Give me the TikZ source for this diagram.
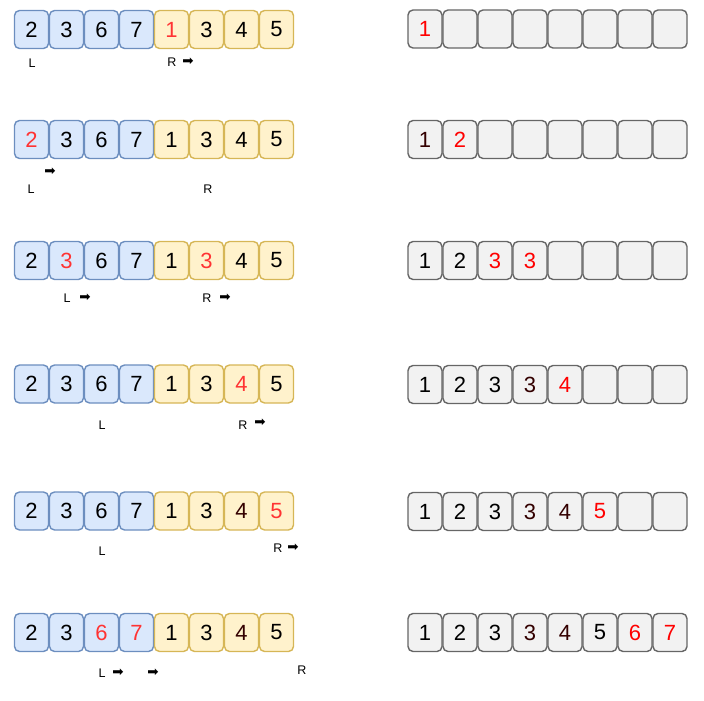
\documentclass[tikz,border=0pt]{standalone}
\usepackage{fontspec}
\setmainfont{Liberation Sans}
\newfontfamily\arrowfont{DejaVu Sans}
\definecolor{bfill}{HTML}{DAE8FC}
\definecolor{bdraw}{HTML}{6C8EBF}
\definecolor{yfill}{HTML}{FFF2CC}
\definecolor{ydraw}{HTML}{D6B656}
\definecolor{gfill}{HTML}{F2F2F2}
\definecolor{gdraw}{HTML}{666666}
\definecolor{lred}{HTML}{FF3333}
\definecolor{rred}{HTML}{FF0000}
\definecolor{dark}{HTML}{330000}
\newcommand\leftrow[3]{%
  \foreach \v/\c [count=\i from 0] in {#3} {%
    \ifnum\i<4 \def\fc{bfill}\def\dc{bdraw}\else\def\fc{yfill}\def\dc{ydraw}\fi
    \node[cell, fill=\fc, draw=\dc, text=\c] (l#1-\i) at (31.5+35*\i, #2) {\v};
  }}
\newcommand\rightrow[3]{%
  \foreach \v/\c [count=\i from 0] in {#3} {%
    \node[cell, fill=gfill, draw=gdraw, text=\c] (r#1-\i) at (425+35*\i, #2) {\v};
  }}
\begin{document}
\begin{tikzpicture}[x=1pt,y=-1pt]
\tikzset{
  cell/.style={rounded corners=5pt, minimum width=34pt, minimum height=38pt, inner sep=0pt, line width=1.4pt, font=\fontsize{22}{22}\selectfont},
  ptr/.style={inner sep=0pt, font=\fontsize{12.5}{12.5}\selectfont},
  arr/.style={inner sep=0pt, font=\arrowfont\fontsize{13.5}{13.5}\selectfont}
}
\useasboundingbox (0,0) rectangle (704,701);
% row 1
\leftrow{1}{29.5}{2/black,3/black,6/black,7/black,1/lred,3/black,4/black,5/black}
\rightrow{1}{29}{1/rred, /black, /black, /black, /black, /black, /black, /black}
\node[ptr] (L1) at (32,63) {L};
\node[ptr] (R1) at (172,62) {R};
\node[arr] (A1) at (188,62) {➡};
% row 2
\leftrow{2}{139.5}{2/lred,3/black,6/black,7/black,1/black,3/black,4/black,5/black}
\rightrow{2}{139.5}{1/dark,2/rred, /black, /black, /black, /black, /black, /black}
\node[ptr] (L2) at (31,189) {L};
\node[arr] (A2) at (50,172) {➡};
\node[ptr] (R2) at (208,189) {R};
% row 3
\leftrow{3}{260.5}{2/black,3/lred,6/black,7/black,1/black,3/lred,4/black,5/black}
\rightrow{3}{260.5}{1/black,2/black,3/rred,3/rred, /black, /black, /black, /black}
\node[ptr] (L3) at (67,298) {L};
\node[arr] (A3a) at (85,298) {➡};
\node[ptr] (R3) at (207,298) {R};
\node[arr] (A3b) at (225,298) {➡};
% row 4
\leftrow{4}{384}{2/black,3/black,6/black,7/black,1/black,3/black,4/lred,5/black}
\rightrow{4}{384.5}{1/black,2/black,3/black,3/dark,4/rred, /black, /black, /black}
\node[ptr] (L4) at (102,425) {L};
\node[ptr] (R4) at (243,425) {R};
\node[arr] (A4) at (260,423) {➡};
% row 5
\leftrow{5}{511}{2/black,3/black,6/black,7/black,1/black,3/black,4/dark,5/lred}
\rightrow{5}{511.5}{1/black,2/black,3/black,3/dark,4/dark,5/rred, /black, /black}
\node[ptr] (L5) at (102,551) {L};
\node[ptr] (R5) at (278,548) {R};
\node[arr] (A5) at (293,548) {➡};
% row 6
\leftrow{6}{632.5}{2/black,3/black,6/lred,7/lred,1/black,3/black,4/dark,5/black}
\rightrow{6}{632.5}{1/black,2/black,3/black,3/dark,4/dark,5/black,6/rred,7/rred}
\node[ptr] (L6) at (102,673) {L};
\node[arr] (A6a) at (118,673) {➡};
\node[arr] (A6b) at (153,673) {➡};
\node[ptr] (R6) at (302,670) {R};
\end{tikzpicture}
\end{document}
